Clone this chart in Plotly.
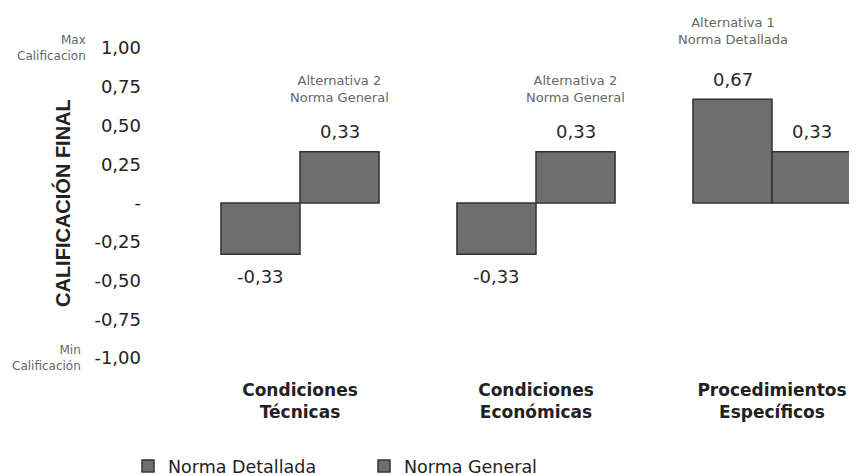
import plotly.graph_objects as go

categories = ["Condiciones<br>Técnicas", "Condiciones<br>Económicas", "Procedimientos<br>Específicos"]
norma_detallada = [-0.33, -0.33, 0.67]
norma_general = [0.33, 0.33, 0.33]
tick_vals = [1.0, 0.75, 0.5, 0.25, 0.0, -0.25, -0.5, -0.75, -1.0]
tick_text = ["1,00", "0,75", "0,50", "0,25", "-", "-0,25", "-0,50", "-0,75", "-1,00"]
alt_labels = ["Alternativa 2<br>Norma General", "Alternativa 2<br>Norma General", "Alternativa 1<br>Norma Detallada"]
alt_series = ["general", "general", "detallada"]

BAR = "#6e6e6e"
EDGE = "#333333"
FONT = "DejaVu Sans, sans-serif"
FONT_T = "Liberation Sans, Arial, sans-serif"
HALF = 39.5  # half bar width in px (for label offsets)
OFF = 8      # page body margin

fig = go.Figure()
for name, vals in [("Norma Detallada", norma_detallada), ("Norma General", norma_general)]:
    fig.add_trace(go.Bar(
        name=name, x=categories, y=vals,
        marker=dict(color=BAR, line=dict(color=EDGE, width=1.5)),
        cliponaxis=False,
    ))

annotations = []
for vals, sh in [(norma_detallada, -HALF), (norma_general, HALF)]:
    for cat, v in zip(categories, vals):
        annotations.append(dict(
            x=cat, y=v, xref="x", yref="y", text=f"{v:.2f}".replace(".", ","),
            showarrow=False, xshift=sh, yshift=20 if v >= 0 else -22,
            font=dict(size=18, color="#2a2a2a", family=FONT),
        ))
for cat, lab, s in zip(categories, alt_labels, alt_series):
    i = categories.index(cat)
    v = norma_general[i] if s == "general" else norma_detallada[i]
    annotations.append(dict(
        x=cat, y=v, xref="x", yref="y", text=lab, showarrow=False,
        xshift=HALF if s == "general" else -HALF, yshift=63 if s == "general" else 68,
        font=dict(size=13, color="#666666", family=FONT), align="center",
    ))

annotations += [
    dict(x=88, y=1.0, xref="paper", yref="y", text="Max<br>Calificacion",
         showarrow=False, xanchor="right", yanchor="middle", align="right",
         font=dict(size=12, color="#666666", family=FONT)),
    dict(x=83, y=-1.0, xref="paper", yref="y", text="Min<br>Calificación",
         showarrow=False, xanchor="right", yanchor="middle", align="right",
         font=dict(size=12, color="#666666", family=FONT)),
    dict(x=62, y=0.0, xref="paper", yref="y", text="<b>CALIFICACIÓN FINAL</b>",
         showarrow=False, textangle=-90, xanchor="center", yanchor="middle",
         font=dict(size=20, color="#222222", family=FONT_T)),
]

L, R, T, B = 174, 8, 40, 125
PW = 857 - L - R
PH = 475 - T - B
for a in annotations:
    if a["xref"] == "paper":
        a["x"] = (a["x"] - OFF - L) / PW

fig.update_layout(
    width=857, height=475,
    margin=dict(l=L, r=R, t=T, b=B, autoexpand=False),
    paper_bgcolor="white", plot_bgcolor="white",
    barmode="group", bargap=0.33, bargroupgap=0,
    font=dict(family=FONT, color="#222222"),
    showlegend=True,
    legend=dict(orientation="h", x=(120 - L) / PW, y=((475 - B) - 458) / PH,
                xanchor="left", yanchor="middle",
                font=dict(size=17.5, color="#222222", family=FONT),
                entrywidth=191, entrywidthmode="pixels"),
    annotations=annotations,
)
fig.update_xaxes(range=[-0.5, -0.5 + PW / 236], showgrid=False, showline=False,
                 zeroline=False, ticks="",
                 tickfont=dict(size=17, color="#222222", family=FONT, weight="bold"),
                 ticklabelstandoff=20)
fig.update_yaxes(range=[-1, 1], tickvals=tick_vals, ticktext=tick_text,
                 showgrid=False, showline=False, zeroline=False, ticks="",
                 tickfont=dict(size=18, color="#222222", family=FONT),
                 ticklabelstandoff=40)

fig.write_html("out.html")
